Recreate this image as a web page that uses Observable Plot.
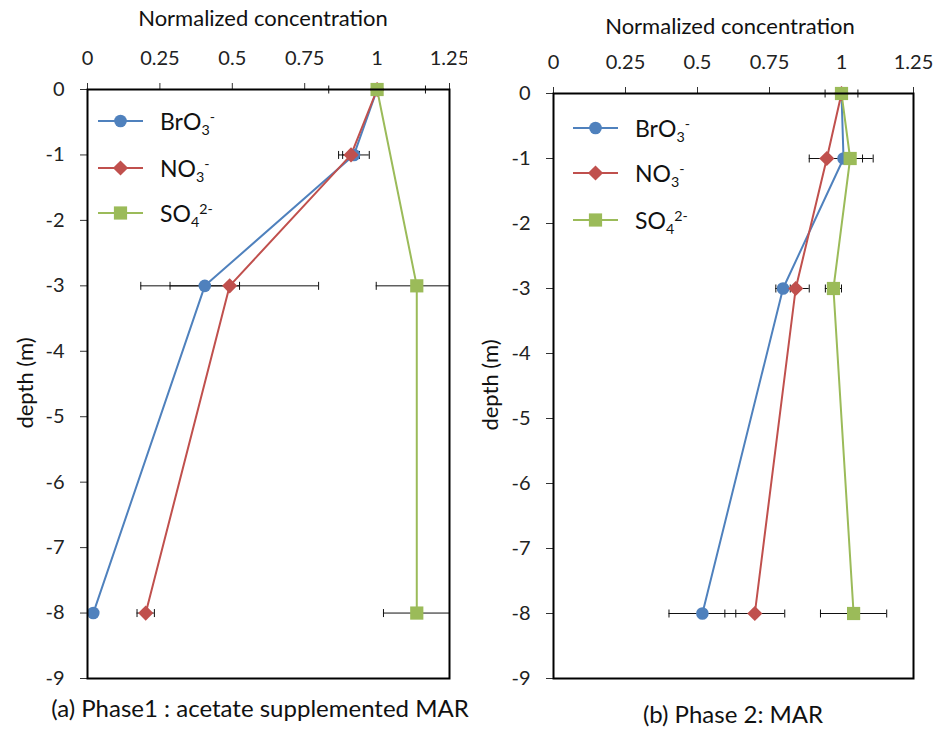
<!DOCTYPE html>
<html><head><meta charset="utf-8">
<script src="https://cdn.jsdelivr.net/npm/d3@7"></script>
<script src="https://cdn.jsdelivr.net/npm/@observablehq/plot@0.6"></script>
<style>
body{margin:0;background:#fff;font-family:Lato,sans-serif;}
#root{position:relative;width:935px;height:729px;overflow:hidden;background:#fff;}
.panel{position:absolute;top:0;}
.cap{position:absolute;font-size:24px;line-height:24px;color:#111;white-space:nowrap;transform:translateX(-50%);}
.xt{position:absolute;font-size:22px;line-height:22px;color:#111;white-space:nowrap;transform:translateX(-50%);}
.yt{position:absolute;font-size:22px;line-height:22px;color:#111;white-space:nowrap;transform:translate(-50%,-50%) rotate(-90deg);}
.leg{position:absolute;display:flex;align-items:center;height:30px;font-size:23px;color:#111;white-space:nowrap;}
.sb{font-size:0.62em;position:relative;top:0.35em;line-height:0;}
.sp{font-size:0.62em;position:relative;top:-0.55em;line-height:0;}
</style></head>
<body><div id="root"></div>
<script>
// ---- data ----
const depths = [0, -1, -3, -8];
const depthTicks = [0, -1, -2, -3, -4, -5, -6, -7, -8, -9];
const concTicks = [0, 0.25, 0.5, 0.75, 1, 1.25];
const ions = ["BrO3-", "NO3-", "SO42-"];
const ionHtml = ['BrO<span class="sb">3</span><span class="sp">-</span>',
                 'NO<span class="sb">3</span><span class="sp">-</span>',
                 'SO<span class="sb">4</span><span class="sp">2-</span>'];
const colors = ["#4F81BD", "#C0504D", "#9BBB59"];
const xTitle = "Normalized concentration";
const yTitle = "depth (m)";
const captions = ["(a) Phase1 : acetate supplemented MAR", "(b) Phase 2: MAR"];

// Phase 1 (acetate supplemented MAR)
const p1BrO3 = [1, 0.92, 0.405, 0.02];
const p1BrO3Err = [null, 0.053, 0.12, null];
const p1NO3 = [1, 0.91, 0.491, 0.201];
const p1NO3Err = [null, 0.029, 0.307, 0.03];
const p1SO4 = [1, null, 1.137, 1.137];
const p1SO4Err = [0.167, null, 0.14, 0.115];

// Phase 2 (MAR)
const p2BrO3 = [1, 1.007, 0.797, 0.517];
const p2BrO3Err = [null, 0.066, 0.025, 0.116];
const p2NO3 = [1, 0.949, 0.841, 0.699];
const p2NO3Err = [null, 0.061, 0.047, 0.104];
const p2SO4 = [1, 1.03, 0.972, 1.042];
const p2SO4Err = [0.057, 0.08, 0.028, 0.115];

// ---- build tables ----
function rowsOf(vals, errs) {
  const rows = [];
  vals.forEach((v, i) => {
    depths.forEach((d, j) => {
      if (v[j] != null) rows.push({ion: ions[i], depth: d, conc: v[j], err: errs[i][j]});
    });
  });
  return rows;
}
const XMAX = concTicks[concTicks.length - 1];

// symbols (Excel-like)
const circleSym = {draw(c, size) { const r = Math.sqrt(size / Math.PI); c.moveTo(r, 0); c.arc(0, 0, r, 0, 2 * Math.PI); }};
const diamondSym = {draw(c, size) { const r = Math.sqrt(size / Math.PI); c.moveTo(0, -r); c.lineTo(r, 0); c.lineTo(0, r); c.lineTo(-r, 0); c.closePath(); }};
const squareSym = {draw(c, size) { const r = Math.sqrt(size / Math.PI); c.rect(-r, -r, 2 * r, 2 * r); }};
const capSym = {draw(c, size) { const r = Math.sqrt(size / Math.PI); c.moveTo(0, -r); c.lineTo(0, r); }};
const syms = [circleSym, diamondSym, squareSym];
const symR = [6.3, 7.6, 6.6];

function panel(rows, m) {
  const errRows = rows.filter(d => d.err != null);
  const capRows = [];
  errRows.forEach(d => {
    [d.conc - d.err, d.conc + d.err].forEach(x => { if (x >= 0 && x <= XMAX) capRows.push({depth: d.depth, x}); });
  });
  const marks = [
    Plot.axisX({anchor: "top", ticks: concTicks, tickFormat: d => String(d), tickSize: 7, tickPadding: 18,
      fontSize: 20, stroke: "#333", color: "#222", label: null}),
    Plot.axisY({ticks: depthTicks, tickFormat: d => String(d), tickSize: 7, tickPadding: 16,
      fontSize: 20, stroke: "#333", color: "#222", label: null}),
    Plot.ruleY(errRows, {y: "depth", x1: d => Math.max(0, d.conc - d.err), x2: d => Math.min(XMAX, d.conc + d.err), stroke: "#111", strokeWidth: 1}),
    Plot.dot(capRows, {x: "x", y: "depth", symbol: capSym, r: 4, stroke: "#111", fill: "none", strokeWidth: 1}),
    Plot.line(rows, {x: "conc", y: "depth", z: "ion", stroke: d => colors[ions.indexOf(d.ion)], strokeWidth: 2})
  ];
  ions.forEach((ion, i) => {
    marks.push(Plot.dot(rows.filter(d => d.ion === ion), {x: "conc", y: "depth", symbol: syms[i], r: symR[i], fill: colors[i], stroke: "none"}));
  });
  marks.push(Plot.frame({stroke: "#000", strokeWidth: 2}));
  return Plot.plot({
    width: m.width, height: m.height,
    marginLeft: m.left, marginRight: m.right, marginTop: m.top, marginBottom: m.bottom,
    style: {fontFamily: "Lato, sans-serif", fontSize: "20px", background: "white", overflow: "visible"},
    x: {domain: [0, XMAX]},
    y: {domain: [depthTicks[depthTicks.length - 1], depthTicks[0]]},
    marks
  });
}

const root = document.getElementById("root");
const panels = [
  {rows: rowsOf([p1BrO3, p1NO3, p1SO4], [p1BrO3Err, p1NO3Err, p1SO4Err]),
   m: {x: 0, width: 467, height: 690, left: 87, right: 18, top: 89, bottom: 12},
   legend: {x: 98, ys: [121, 168, 213]}, cap: {x: 260, top: 696}, xt: {x: 263, top: 7}, yt: {x: 25, y: 383}},
  {rows: rowsOf([p2BrO3, p2NO3, p2SO4], [p2BrO3Err, p2NO3Err, p2SO4Err]),
   m: {x: 467, width: 468, height: 690, left: 86, right: 22, top: 93, bottom: 12},
   legend: {x: 573, ys: [128, 173, 220]}, cap: {x: 733, top: 702}, xt: {x: 730, top: 15}, yt: {x: 490, y: 385}}
];
function addText(cls, x, y, txt) {
  const d = document.createElement("div");
  d.className = cls; d.style.left = x + "px"; d.style.top = y + "px"; d.textContent = txt;
  root.appendChild(d);
}
panels.forEach((p, k) => {
  const svg = panel(p.rows, p.m);
  const wrap = document.createElement("div");
  wrap.className = "panel";
  wrap.style.left = p.m.x + "px";
  wrap.appendChild(svg);
  root.appendChild(wrap);
  // legend
  ions.forEach((ion, i) => {
    const div = document.createElement("div");
    div.className = "leg";
    div.style.left = p.legend.x + "px";
    div.style.top = (p.legend.ys[i] - 15) + "px";
    const s = d3.create("svg").attr("width", 46).attr("height", 30).style("margin-right", "16px").style("overflow", "visible");
    s.append("line").attr("x1", 0).attr("x2", 45).attr("y1", 15).attr("y2", 15).attr("stroke", colors[i]).attr("stroke-width", 2);
    s.append("path").attr("transform", "translate(22.5,15)").attr("fill", colors[i])
      .attr("d", d3.symbol(syms[i], Math.PI * symR[i] * symR[i])());
    div.appendChild(s.node());
    const t = document.createElement("span");
    t.innerHTML = ionHtml[i];
    div.appendChild(t);
    root.appendChild(div);
  });
  addText("cap", p.cap.x, p.cap.top, captions[k]);
  addText("xt", p.xt.x, p.xt.top, xTitle);
  addText("yt", p.yt.x, p.yt.y, yTitle);
});
</script></body></html>
